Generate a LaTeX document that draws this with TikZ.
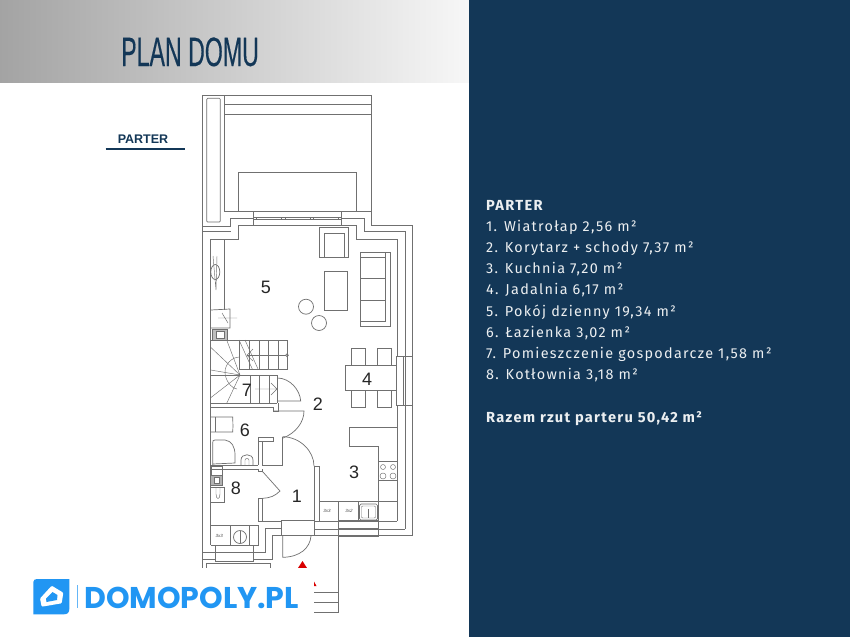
\documentclass[tikz,border=0pt]{standalone}
\usepackage{fontspec}
\setmainfont{Liberation Sans}
\newfontfamily\listfont[LetterSpace=9]{Fira Sans}
\newfontfamily\titlefont[FakeStretch=0.565,FakeBold=0.3]{Liberation Sans}
\newfontfamily\logofont{Poppins}
\definecolor{navy}{HTML}{133757}
\definecolor{planline}{HTML}{707070}
\definecolor{logoblue}{HTML}{2196F3}
\tikzset{
  plan/.style={draw=planline,line width=0.7pt},
  thin plan/.style={draw=planline,line width=0.45pt},
  room/.style={font=\fontsize{18}{18}\selectfont,text=black!85,inner sep=0pt},
  size tag/.style={font=\fontsize{4.5}{5}\selectfont\itshape,text=black!70,inner sep=0pt},
  listline/.style={anchor=base west,inner sep=0pt,text=white!92!navy,font=\fontsize{14.4}{14}\selectfont\listfont},
  listhead/.style={listline,font=\fontsize{14.6}{14}\selectfont\listfont\bfseries},
}
\begin{document}
\begin{tikzpicture}[x=1pt,y=-1pt]
  \useasboundingbox (0,0) rectangle (850,637);
  \fill[white] (0,0) rectangle (850,637);

  % header and panel
  \shade[left color=black!36,right color=black!3] (0,0) rectangle (469,82);
  \fill[navy] (469,0) rectangle (850,637);
  \node[anchor=base west,inner sep=0pt,text=navy,font=\fontsize{41}{41}\selectfont\titlefont] (title) at (121,66) {PLAN DOMU};
  \node[inner sep=0pt,text=navy,font=\fontsize{12.5}{13}\selectfont\bfseries] (floor) at (143,139) {PARTER};
  \draw[navy,line width=2pt] (105.5,148.5) -- (185,148.5);

  % garden and terrace
  \draw[plan] (224.3,114.3) -- (224.3,95) (202.7,95) -- (371.3,95) -- (371.3,211)
  (224.3,104.3) -- (371.3,104.3) (224.3,114.3) -- (371.3,114.3)
  (224.3,114.3) -- (224.3,211) -- (371.3,211);
  \draw[plan,rounded corners=1pt] (206.7,98.3) rectangle (220.3,222);
  \draw[plan] (238.7,211) -- (238.7,172) -- (356.7,172) -- (356.7,211);

  % outer walls
  \draw[plan] (202.7,95) -- (202.7,568);
  \draw[plan] (202.7,226.7) -- (230.7,226.7) -- (230.7,218.3) -- (253.3,218.3);
  \draw[plan] (202.7,231.7) -- (230.7,231.7);
  \draw[plan] (210.7,545) -- (210.7,239.7) -- (238.7,239.7) -- (238.7,225) -- (356.7,225)
  -- (356.7,239.7) -- (397.3,239.7) -- (397.3,356);
  \draw[plan] (341.3,218.3) -- (364.7,218.3) -- (364.7,231.7) -- (405,231.7) -- (405,356);
  \draw[plan] (371.3,211) -- (371.3,225) -- (412,225) -- (412,356);
  \draw[plan] (397.3,405.3) -- (397.3,521.3) (405,405.3) -- (405,529) (412,405.3) -- (412,535.7);
  \draw[plan] (281.7,535.7) -- (412,535.7) (314,529) -- (405,529) (314,521.3) -- (397.3,521.3);
  \draw[plan] (281.7,528.3) -- (265,528.3) -- (265,552.7) -- (253.3,552.7);
  \draw[plan] (281.7,535.7) -- (272.3,535.7) -- (272.3,559.3) -- (253.3,559.3);
  \draw[plan] (202.7,552.7) -- (215,552.7) (202.7,559.3) -- (215,559.3);
  \draw[plan] (206.7,568) -- (206.7,563.3) -- (270,563.3) -- (270,568);

  % windows
  \draw[plan] (253.3,211) rectangle (341.3,225);
  \draw[thin plan] (253.3,217.3) -- (341.3,217.3) (253.3,219.3) -- (341.3,219.3);
  \foreach \x in {256.5,281.5,285,310,313.5,338}
    \draw[plan] (\x,217) -- (\x,220);
  \draw[plan] (396.7,356) rectangle (412,405.3);
  \draw[thin plan] (403.5,356) -- (403.5,405.3) (405,356) -- (405,405.3);
  \draw[plan] (215,545) rectangle (253.3,561.7);
  \draw[thin plan] (215,552.7) -- (253.3,552.7);
  \draw[plan] (338.3,520.7) rectangle (378.3,536.7);
  \draw[thin plan] (338.3,528) -- (378.3,528);
  \draw[plan] (281.7,520.7) rectangle (314,535.7);

  % living room
  \draw[plan] (319.3,227.7) rectangle (348.7,257);
  \draw[thin plan] (324.3,257) -- (324.3,233.3) -- (344,233.3) -- (344,257);
  \draw[plan] (360.3,252) rectangle (390,326.7);
  \draw[thin plan] (385,252) -- (385,321) -- (360.3,321)
  (360.3,257) -- (385,257) (360.3,278) -- (385,278) (360.3,300) -- (385,300);
  \draw[plan] (324.3,271) rectangle (347.3,310);
  \draw[plan] (306,306.7) circle (7.5) (319,323) circle (7.5);

  % dining room
  \draw[plan] (351.7,348.7) rectangle (365,365) (377.7,348.7) rectangle (391,365);
  \draw[plan] (351.7,390.7) rectangle (365,407.3) (377.7,390.7) rectangle (391,407.3);
  \draw[plan,fill=white] (345,365) rectangle (396.7,390.7);

  % left fixtures
  \draw[plan] (224.3,239.7) -- (224.3,310);
  \draw[thin plan] (213,256) -- (216,290) (217,256) -- (216,290);
  \draw[plan] (215.3,272) ellipse (4.5 and 7.5);
  \draw[plan] (210.7,310) -- (230,309) -- (230,328) -- (210.7,328);
  \draw[thin plan] (218,318) -- (237,318) (222,313) -- (228,323);
  \draw[plan,fill=black!25] (212,329) rectangle (227,340);
  \draw[plan,fill=white] (216,331) rectangle (224,338);

  % stairs
  \draw[plan] (239,340) rectangle (287,369);
  \draw[thin plan] (249.3,340) -- (249.3,369) (259,340) -- (259,369) (268.7,340) -- (268.7,369) (278.3,340) -- (278.3,369);
  \draw[thin plan] (239,340) -- (252.3,369) (245,340) -- (258,369);
  \draw[thin plan] (247,355.3) -- (286,355.3);
  \draw[thin plan] (253,349) -- (247,355.3) -- (253,361);
  \draw[plan] (287,355.3) circle (1.4);
  \draw[plan] (210.7,340) -- (239,340);
  \draw[thin plan] (240,375) -- (210.7,347.3) (240,375) -- (226.7,340) (240,375) -- (210.7,370)
  (240,375) -- (210.7,397.7) (240,375) -- (226.7,403.3);
  \draw[thin plan] (240,357) .. controls (231,357) and (225,365) .. (225,372) .. controls (225,380) and (231,388) .. (237,389);
  \draw[plan] (210.7,375) -- (277.3,375) (210.7,403.3) -- (277.3,403.3);
  \draw[thin plan] (250,375) -- (250,403.3) (259.3,375) -- (259.3,403.3) (269,375) -- (269,403.3);
  \draw[thin plan] (255,389) -- (277,389) (271,383) -- (277,389) -- (271,395);
  \draw[plan] (210.7,407) -- (273,407) -- (273,411) -- (278,411) -- (278,403.3);
  \draw[plan] (273,375) -- (277.3,375) -- (277.3,403.3);

  % doors
  \draw[plan] (277.3,378) .. controls (290,378) and (300,390) .. (300.7,401) -- (278,401);
  \draw[plan] (273,411) -- (304,411) .. controls (304,422) and (296,433) .. (283,438);
  \draw[plan] (282.7,436.7) .. controls (300,437) and (314,451) .. (314,466);
  \draw[plan] (262.7,471.7) -- (280,491) .. controls (275,496) and (270,498) .. (262.7,498.3);
  \draw[plan] (282.7,536) -- (282.7,557.3) .. controls (300,557) and (310,548) .. (311,536);

  % inner walls
  \draw[plan] (282.7,436.7) -- (282.7,465) -- (262.7,465) -- (262.7,441) -- (258.3,441) -- (258.3,465);
  \draw[plan] (258.3,441) -- (258.3,437) -- (273,437) -- (273,441) -- (262.7,441);
  \draw[plan] (210.7,465) -- (258.3,465) (210.7,469) -- (258.3,469) -- (258.3,471.7) -- (262.7,471.7) -- (262.7,469);
  \draw[plan] (262.7,498.3) -- (258.3,498.3) -- (258.3,521.3) -- (281.7,521.3);
  \draw[plan] (262.7,498.3) -- (262.7,521.3);
  \draw[plan] (314,466) -- (319.3,466) -- (319.3,521.3) (314,466) -- (314,521.3);
  \draw[plan] (210.7,525.7) -- (258.3,525.7) -- (258.3,545) -- (210.7,545);
  \draw[plan] (230,525.7) -- (230,545) (249.3,525.7) -- (249.3,545);

  % bathroom
  \draw[plan] (210.7,417) -- (232.7,417) .. controls (233,425) and (233,428) .. (232.7,432) -- (210.7,432);
  \draw[thin plan] (215,417) -- (215,432);
  \draw[plan] (212.7,465) -- (212.7,443) .. controls (212.7,441) and (213,440) .. (215,440) -- (225,440)
  .. controls (232,441) and (235,447) .. (235,455) -- (235,463) -- (212.7,464);
  \draw[plan] (241,465) -- (241,460) .. controls (241,453) and (253,453) .. (253,460) -- (253,465);
  \draw[thin plan] (245,465) -- (245,460) .. controls (245,458) and (249,458) .. (249,460) -- (249,465);

  % boiler room
  \draw[plan,fill=black!30] (210.7,475) rectangle (222.7,485);
  \draw[plan,fill=white] (214,477) rectangle (219.5,483);
  \draw[plan] (211,466) rectangle (222.7,475);
  \draw[plan] (210.7,487) rectangle (224,502.7);
  \draw[thin plan] (216,487) -- (216,494) .. controls (216,500) and (220,500) .. (220,494) -- (220,487);
  \draw[plan] (240,537) circle (6.5);
  \draw[thin plan] (240,531) -- (240,543) (235,545) -- (245,545);

  % kitchen
  \draw[plan] (349,427.7) -- (349,446.7) -- (378.3,446.7) -- (378.3,501.7) -- (397.3,501.7);
  \draw[plan] (349,427.7) -- (397.3,427.7);
  \draw[plan] (378.3,461.7) rectangle (397.3,480.7);
  \draw[thin plan] (383,467) circle (2.5) (393,467) circle (2.5) (383,476) circle (3) (393,476) circle (3);
  \draw[plan] (319.3,501.7) -- (378.3,501.7) -- (378.3,520);
  \draw[plan] (338.3,501.7) -- (338.3,520) (358.3,501.7) -- (358.3,520);
  \draw[plan,rounded corners=1.5pt] (359.5,504) rectangle (377.5,520);
  \draw[thin plan,rounded corners=1pt] (361.5,506) rectangle (375.5,518);
  \draw[thin plan] (368.5,509) -- (368.5,518);

  % entrance path
  \draw[plan] (338.3,536) -- (338.3,612.7);
  \draw[plan] (314,592.7) -- (338.3,592.7) (314,602.7) -- (338.3,602.7) (314,612.7) -- (338.3,612.7);
  \fill[red!85!black] (302.5,561) -- (307,568) -- (298,568) -- cycle;
  \fill[white] (0,568) rectangle (314,637);
  \fill[red!85!black] (314,586) -- (316.5,586) -- (314,581.5) -- cycle;

  % room numbers
  \node[room] (r1) at (297,496) {1};
  \node[room] (r2) at (318,404) {2};
  \node[room] (r3) at (354,472) {3};
  \node[room] (r4) at (367,379) {4};
  \node[room] (r5) at (266,287) {5};
  \node[room] (r6) at (245,430) {6};
  \node[room] (r7) at (247,390) {7};
  \node[room] (r8) at (236,488) {8};
  \node[size tag] (tag1) at (219.3,535.7) {3x3};
  \node[size tag] (tag2) at (327,511.3) {3x3};
  \node[size tag] (tag3) at (349,511.3) {3x2};

  % logo
  \fill[logoblue] (33.3,582) .. controls (33.3,580) and (35,579) .. (37,579) -- (69.3,579) -- (69.3,609)
  .. controls (69.3,612.5) and (67.5,614.3) .. (64,614.3) -- (33.3,614.3) -- cycle;
  \fill[white,rounded corners=1pt] (40,598.5) -- (51.7,585.7) -- (63.3,592.7) -- (61.7,603.3) -- (41.7,606.7) -- cycle;
  \fill[logoblue] (46,598.5) -- (52.5,592) -- (57.5,595) -- (57,600) -- (46.5,602) -- cycle;
  \draw[logoblue!70,line width=0.6pt] (77.3,585) -- (77.3,608);
  \node[anchor=base west,inner sep=0pt,text=logoblue,font=\fontsize{30}{32}\selectfont\logofont\bfseries] (logo) at (84,608) {DOMOPOLY.PL};

  % area list
  \node[listhead] (head) at (486,210) {PARTER};
  \foreach \txt [count=\i] in {{1. Wiatrołap 2,56 m²},{2. Korytarz + schody 7,37 m²},{3. Kuchnia 7,20 m²},{4. Jadalnia 6,17 m²},{5. Pokój dzienny 19,34 m²},{6. Łazienka 3,02 m²},{7. Pomieszczenie gospodarcze 1,58 m²},{8. Kotłownia 3,18 m²}}
    \node[listline] (line\i) at (486,210+21.2*\i) {\txt};
  \node[listhead] (total) at (486,422) {Razem rzut parteru 50,42 m²};
\end{tikzpicture}
\end{document}
